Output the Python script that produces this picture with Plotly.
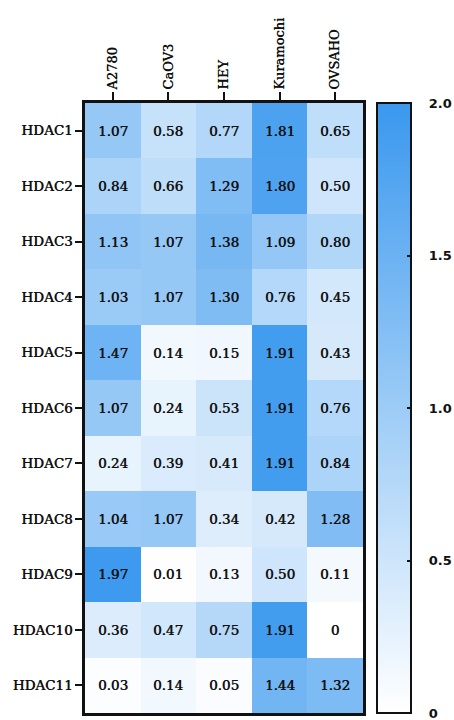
import plotly.graph_objects as go

# Cell lines (columns) and HDAC genes (rows)
cell_lines = ["A2780", "CaOV3", "HEY", "Kuramochi", "OVSAHO"]
genes = ["HDAC1", "HDAC2", "HDAC3", "HDAC4", "HDAC5", "HDAC6",
         "HDAC7", "HDAC8", "HDAC9", "HDAC10", "HDAC11"]

# Relative expression values, one list per gene
hdac1 = [1.07, 0.58, 0.77, 1.81, 0.65]
hdac2 = [0.84, 0.66, 1.29, 1.80, 0.50]
hdac3 = [1.13, 1.07, 1.38, 1.09, 0.80]
hdac4 = [1.03, 1.07, 1.30, 0.76, 0.45]
hdac5 = [1.47, 0.14, 0.15, 1.91, 0.43]
hdac6 = [1.07, 0.24, 0.53, 1.91, 0.76]
hdac7 = [0.24, 0.39, 0.41, 1.91, 0.84]
hdac8 = [1.04, 1.07, 0.34, 0.42, 1.28]
hdac9 = [1.97, 0.01, 0.13, 0.50, 0.11]
hdac10 = [0.36, 0.47, 0.75, 1.91, 0.00]
hdac11 = [0.03, 0.14, 0.05, 1.44, 1.32]

z = [hdac1, hdac2, hdac3, hdac4, hdac5, hdac6,
     hdac7, hdac8, hdac9, hdac10, hdac11]

# Colorbar tick positions and labels
cbar_vals = [0, 0.5, 1.0, 1.5, 2.0]
cbar_text = ["0", "0.5", "1.0", "1.5", "2.0"]


def fmt(v):
    return "0" if v == 0 else f"{v:.2f}"


text = [[fmt(v) for v in row] for row in z]

SERIF = "DejaVu Serif"
SANS = "DejaVu Sans"
INK = "#111111"
HEAVY = "0.5px 0 0 #111111"  # slightly thickened strokes for labels
PAD = "\u00a0" * 3  # gap between colorbar edge and its labels

fig = go.Figure(
    go.Heatmap(
        z=z,
        x=cell_lines,
        y=genes,
        zmin=0,
        zmax=2.0,
        colorscale=[[0, "#ffffff"], [1, "#3a98ee"]],
        text=text,
        texttemplate="%{text}",
        textfont=dict(family=SERIF, size=13.5, color=INK, shadow=HEAVY),
        colorbar=dict(
            x=1.0504,
            xanchor="left",
            xpad=0,
            y=0,
            yanchor="bottom",
            ypad=0,
            len=1.0,
            lenmode="fraction",
            thickness=34,
            outlinewidth=2,
            outlinecolor=INK,
            tickvals=cbar_vals,
            ticktext=[PAD + t for t in cbar_text],
            ticks="inside",
            ticklen=5,
            tickwidth=2,
            tickcolor=INK,
            ticklabeloverflow="allow",
            tickfont=dict(family=SANS, size=13, color=INK, weight="bold"),
        ),
    )
)

fig.update_xaxes(
    side="top",
    tickangle=-90,
    showline=True,
    linewidth=2.5,
    linecolor=INK,
    mirror=True,
    ticks="outside",
    ticklen=8,
    tickwidth=2,
    tickcolor=INK,
    tickfont=dict(family=SERIF, size=13, color=INK, shadow=HEAVY),
    showgrid=False,
    zeroline=False,
)
fig.update_yaxes(
    autorange="reversed",
    showline=True,
    linewidth=2.5,
    linecolor=INK,
    mirror=True,
    ticks="outside",
    ticklen=7,
    tickwidth=2,
    tickcolor=INK,
    tickfont=dict(family=SERIF, size=13.5, color=INK, shadow=HEAVY),
    showgrid=False,
    zeroline=False,
)

fig.update_layout(
    width=454,
    height=720,
    margin=dict(l=85, r=91, t=103, b=7, autoexpand=False),
    paper_bgcolor="white",
    plot_bgcolor="white",
    font=dict(family=SERIF, color=INK),
)

fig.write_html("out.html")
